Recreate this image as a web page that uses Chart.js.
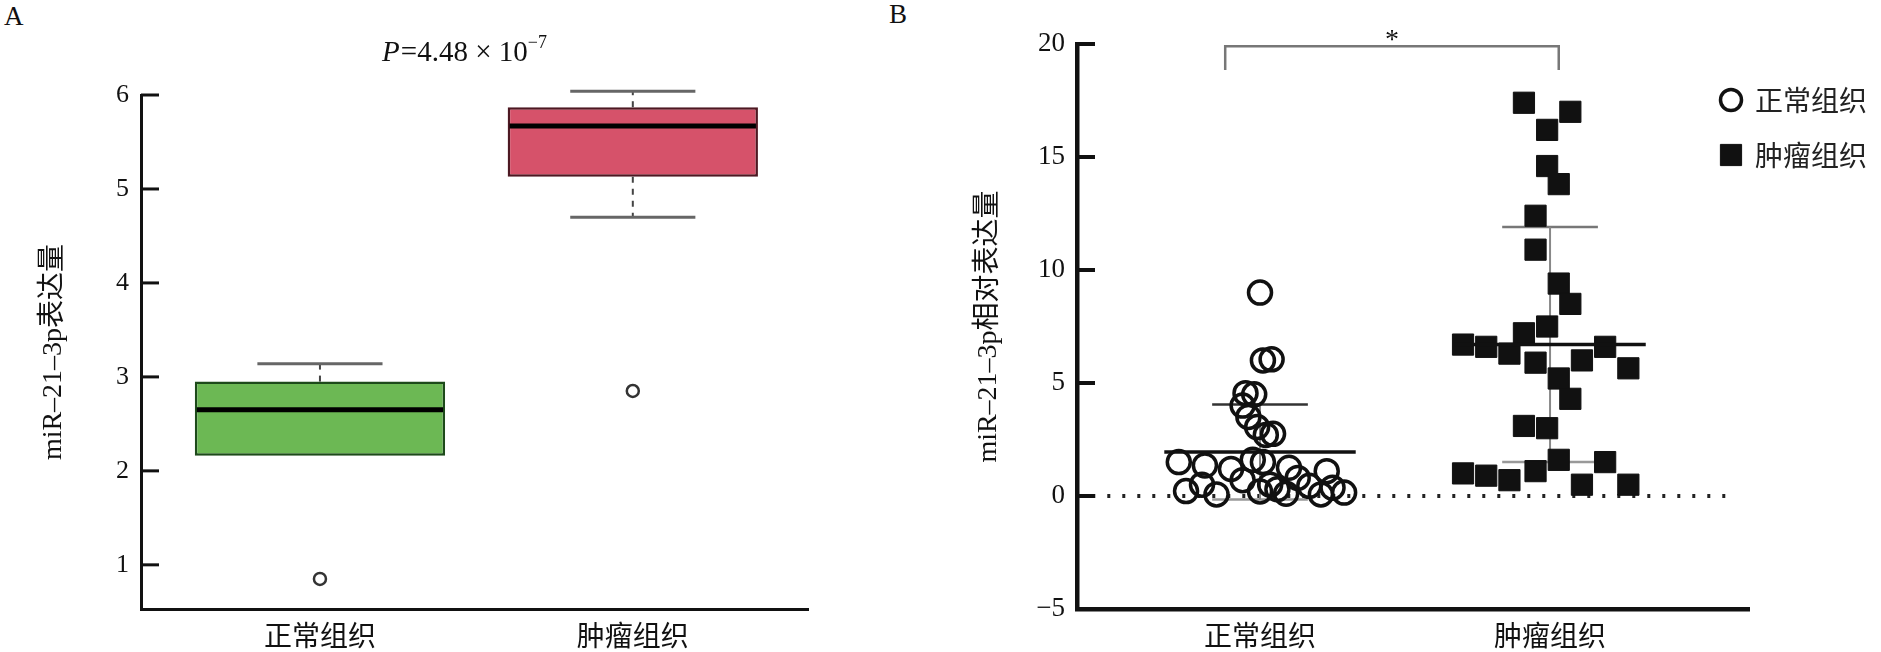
<!DOCTYPE html>
<html>
<head>
<meta charset="utf-8">
<script src="https://cdn.jsdelivr.net/npm/chart.js@4.4.1/dist/chart.umd.min.js"></script>
<style>
    html, body { margin: 0; padding: 0; background: #fff; }
    body { width: 1881px; height: 652px; position: relative; overflow: hidden; }
    .panel-tag { position: absolute; font: 27px 'Liberation Serif', serif; line-height: 1; color: #111; }
    #chart_a { position: absolute; left: 0; top: 0; }
    #chart_b { position: absolute; left: 880px; top: 0; }
</style>
</head>
<body>
<div class="panel-tag" style="left:4px;top:3px">A</div>
<div class="panel-tag" style="left:889px;top:1px">B</div>
<canvas id="chart_a" width="928" height="652"></canvas>
<canvas id="chart_b" width="1001" height="652"></canvas>
<script>
// ---------- data ----------
const groups = ['正常组织', '肿瘤组织'];

// Panel A: box plot summary per group
const boxLow = [2.16, 5.13];
const boxHigh = [2.95, 5.87];
const medians = [2.65, 5.67];
const whiskerLow = [2.16, 4.70];
const whiskerHigh = [3.14, 6.04];
const outliers = [0.85, 2.85];
const ticksA = [1, 2, 3, 4, 5, 6];
const titleA = ['P', '=4.48 × 10', '−7'];

// Panel B: individual samples (x = jittered group position)
const normalX = [1.0, 1.01, 1.04, 0.95, 0.98, 0.94, 0.96, 0.99, 1.02, 1.045,
    0.72, 0.745, 0.81, 0.80, 0.85, 0.90, 0.94, 1.01, 1.0, 1.035,
    1.06, 1.10, 1.13, 1.17, 1.21, 1.23, 1.25, 1.29, 0.975, 1.09];
const normalY = [9.0, 6.0, 6.05, 4.55, 4.5, 4.0, 3.5, 3.05, 2.7, 2.75,
    1.5, 0.22, 1.35, 0.5, 0.07, 1.2, 0.7, 1.5, 0.2, 0.5,
    0.3, 1.25, 0.8, 0.45, 0.07, 1.1, 0.37, 0.15, 1.6, 0.1];
const tumorX = [1.91, 2.07, 1.99, 1.99, 2.03, 1.95, 1.95, 2.03, 2.07, 1.99,
    1.91, 2.19, 1.95, 2.11, 2.27, 2.03, 2.07, 1.91, 1.99, 2.03,
    1.95, 2.19, 2.11, 2.27, 1.70, 1.78, 1.86, 1.70, 1.78, 1.86];
const tumorY = [17.4, 17.0, 16.2, 14.6, 13.8, 12.4, 10.9, 9.4, 8.5, 7.5,
    7.2, 6.6, 5.9, 6.0, 5.65, 5.2, 4.3, 3.1, 3.0, 1.6,
    1.1, 1.5, 0.5, 0.5, 6.7, 6.6, 6.3, 1.0, 0.9, 0.7];
const groupMean = [1.95, 6.7];
const groupSd = [2.1, 5.2];
const ticksB = [-5, 0, 5, 10, 15, 20];
const sigBracket = [18.85, 19.9];
const sigMark = '*';

// ---------- shared ----------
Chart.defaults.font.family = "'Liberation Serif', 'Noto Sans CJK SC', serif";
Chart.defaults.color = '#111';
const cjkFont = "'Noto Sans CJK SC', sans-serif";
const fixedTicks = list => scale => { scale.ticks = list.map(v => ({ value: v })); };

// short tick stubs drawn inside the plot, right of the y axis
const insideTicks = {
    id: 'insideTicks',
    afterDraw(chart, args, opts) {
        const { ctx, chartArea } = chart;
        const y = chart.scales.y;
        ctx.save();
        ctx.strokeStyle = '#111';
        ctx.lineWidth = opts.width;
        y.ticks.forEach(t => {
            const py = y.getPixelForValue(t.value);
            ctx.beginPath();
            ctx.moveTo(chartArea.left, py);
            ctx.lineTo(chartArea.left + opts.length, py);
            ctx.stroke();
        });
        ctx.restore();
    }
};

// ======================================================
// Panel A - box plot
const boxDetails = {
    id: 'boxDetails',
    afterDatasetsDraw(chart) {
        const { ctx, scales: { x, y } } = chart;
        const bars = chart.getDatasetMeta(1).data;
        const line = (x0, y0, x1, y1) => { ctx.beginPath(); ctx.moveTo(x0, y0); ctx.lineTo(x1, y1); ctx.stroke(); };
        ctx.save();
        groups.forEach((g, i) => {
            const cx = x.getPixelForValue(i + 1);
            const half = bars[i].width / 2;
            // whiskers
            ctx.strokeStyle = '#444';
            ctx.lineWidth = 2;
            ctx.setLineDash([6, 6]);
            line(cx, y.getPixelForValue(boxHigh[i]), cx, y.getPixelForValue(whiskerHigh[i]));
            if (whiskerLow[i] < boxLow[i]) {
                line(cx, y.getPixelForValue(boxLow[i]), cx, y.getPixelForValue(whiskerLow[i]));
            }
            ctx.setLineDash([]);
            // caps
            ctx.strokeStyle = '#666';
            ctx.lineWidth = 3;
            line(cx - half / 2, y.getPixelForValue(whiskerHigh[i]), cx + half / 2, y.getPixelForValue(whiskerHigh[i]));
            if (whiskerLow[i] < boxLow[i]) {
                line(cx - half / 2, y.getPixelForValue(whiskerLow[i]), cx + half / 2, y.getPixelForValue(whiskerLow[i]));
            }
            // median
            ctx.strokeStyle = '#000';
            ctx.lineWidth = 5;
            line(cx - half + 2, y.getPixelForValue(medians[i]), cx + half - 2, y.getPixelForValue(medians[i]));
        });
        ctx.restore();
    }
};

const pValueTitle = {
    id: 'pValueTitle',
    afterDraw(chart) {
        const { ctx, chartArea } = chart;
        const fonts = ["italic 29px 'Liberation Serif'", "29px 'Liberation Serif'", "18px 'Liberation Serif'"];
        const ty = chartArea.top - 42;
        ctx.save();
        ctx.fillStyle = '#111';
        ctx.textBaseline = 'middle';
        const widths = titleA.map((t, i) => { ctx.font = fonts[i]; return ctx.measureText(t).width; });
        let tx = chart.width / 2 - widths.reduce((a, b) => a + b, 0) / 2;
        titleA.forEach((t, i) => {
            ctx.font = fonts[i];
            ctx.fillText(t, tx, i === 2 ? ty - 10 : ty);
            tx += widths[i] + (i === 0 ? 1 : 0);
        });
        ctx.restore();
    }
};

new Chart(document.querySelector('#chart_a'), {
    type: 'bar',
    data: {
        datasets: [
            {
                type: 'scatter',
                label: 'outliers',
                data: outliers.map((v, i) => ({ x: i + 1, y: v })),
                pointStyle: 'circle',
                pointRadius: 6,
                borderWidth: 2.5,
                borderColor: '#333',
                backgroundColor: 'rgba(0,0,0,0)'
            },
            {
                type: 'bar',
                label: 'IQR',
                data: groups.map((g, i) => ({ x: i + 1, y: [boxLow[i], boxHigh[i]] })),
                backgroundColor: ['#6cb854', '#d6526a'],
                borderColor: ['#1d4a1a', '#4d1822'],
                borderWidth: 2.5,
                borderSkipped: false,
                barPercentage: 0.8,
                categoryPercentage: 1
            }
        ]
    },
    options: {
        responsive: false,
        animation: false,
        layout: { padding: { top: 95, right: 120, left: 0, bottom: 0 } },
        plugins: {
            legend: { display: false },
            tooltip: { enabled: false },
            insideTicks: { width: 3, length: 18 }
        },
        scales: {
            x: {
                type: 'linear',
                min: 0.428,
                max: 2.56,
                offset: false,
                afterBuildTicks: fixedTicks([1, 2]),
                afterFit: s => { s.height = 43; },
                ticks: { padding: 10, font: { size: 28, family: cjkFont }, callback: v => groups[v - 1] },
                grid: { display: false, drawTicks: false },
                border: { color: '#111', width: 3 }
            },
            y: {
                min: 0.53,
                max: 6,
                afterBuildTicks: fixedTicks(ticksA),
                afterFit: s => { s.width = 141; },
                ticks: { padding: 12, font: { size: 26 } },
                grid: { display: false, drawTicks: false },
                border: { color: '#111', width: 3 },
                title: { display: true, text: 'miR–21–3p表达量', font: { size: 28 }, padding: { top: 37, bottom: 0 } }
            }
        }
    },
    plugins: [boxDetails, insideTicks, pValueTitle]
});

// ======================================================
// Panel B - scatter with mean ± SD
const seg = (x0, x1, y0, y1) => [{ x: x0, y: y0 }, { x: x1, y: y1 }];
const lineSet = (data, color, width, extra) => Object.assign({
    type: 'line', data, borderColor: color, borderWidth: width,
    pointRadius: 0, fill: false, tension: 0, clip: false, order: 2
}, extra || {});

const statLines = [];
groups.forEach((g, i) => {
    const c = i + 1, m = groupMean[i], s = groupSd[i];
    statLines.push(lineSet(seg(c, c, m - s, m + s), '#888', 2));
    statLines.push(lineSet(seg(c - 0.165, c + 0.165, m + s, m + s), i === 0 ? '#333' : '#777', 2.5));
    statLines.push(lineSet(seg(c - 0.165, c + 0.165, m - s, m - s), '#999', 2.5));
    statLines.push(lineSet(seg(c - 0.33, c + 0.33, m, m), '#111', 3.5, { order: 0 }));
});

const sideLegend = {
    id: 'sideLegend',
    afterDraw(chart, args, opts) {
        const { ctx, chartArea } = chart;
        const items = chart.data.datasets.filter(d => groups.includes(d.label));
        ctx.save();
        items.forEach((d, i) => {
            const cx = chartArea.right + opts.x;
            const cy = chartArea.top + opts.y + i * opts.gap;
            ctx.fillStyle = d.backgroundColor;
            ctx.strokeStyle = d.borderColor;
            ctx.lineWidth = d.borderWidth;
            Chart.helpers.drawPoint(ctx, { pointStyle: d.pointStyle, radius: opts.radius[i], borderWidth: d.borderWidth, rotation: 0 }, cx, cy);
            ctx.fillStyle = '#222';
            ctx.font = "28px 'Noto Sans CJK SC'";
            ctx.textBaseline = 'middle';
            ctx.fillText(d.label, cx + 24, cy);
        });
        ctx.restore();
    }
};

const sigLabel = {
    id: 'sigLabel',
    afterDraw(chart) {
        const { ctx, scales: { x, y } } = chart;
        const mx = (x.getPixelForValue(1 - 0.12) + x.getPixelForValue(2 + 0.03)) / 2;
        ctx.save();
        ctx.fillStyle = '#111';
        ctx.font = "28px 'Liberation Serif'";
        ctx.textAlign = 'center';
        ctx.textBaseline = 'middle';
        ctx.fillText(sigMark, mx, y.getPixelForValue(sigBracket[1]) - 6);
        ctx.restore();
    }
};

new Chart(document.querySelector('#chart_b'), {
    type: 'scatter',
    data: {
        datasets: [
            {
                label: groups[0],
                data: normalX.map((v, i) => ({ x: v, y: normalY[i] })),
                pointStyle: 'circle',
                pointRadius: 11.5,
                borderWidth: 3.5,
                borderColor: '#111',
                backgroundColor: 'rgba(0,0,0,0)',
                order: 1
            },
            {
                label: groups[1],
                data: tumorX.map((v, i) => ({ x: v, y: tumorY[i] })),
                pointStyle: 'rect',
                pointRadius: 15,
                borderWidth: 1,
                borderColor: '#111',
                backgroundColor: '#111',
                order: 1
            },
            ...statLines,
            lineSet(seg(0.37, 2.64, 0, 0), '#222', 4, { borderDash: [3, 12], order: 3 }),
            lineSet([
                { x: 1 - 0.12, y: sigBracket[0] }, { x: 1 - 0.12, y: sigBracket[1] },
                { x: 2 + 0.03, y: sigBracket[1] }, { x: 2 + 0.03, y: sigBracket[0] }
            ], '#777', 2.5)
        ]
    },
    options: {
        responsive: false,
        animation: false,
        layout: { padding: { top: 44, right: 132, left: 0, bottom: 0 } },
        plugins: {
            legend: { display: false },
            tooltip: { enabled: false },
            insideTicks: { width: 4, length: 18 },
            sideLegend: { x: -18, y: 56, gap: 55, radius: [10.5, 15] }
        },
        scales: {
            x: {
                type: 'linear',
                min: 0.369,
                max: 2.686,
                offset: false,
                afterBuildTicks: fixedTicks([1, 2]),
                afterFit: s => { s.height = 43; },
                ticks: { padding: 10, font: { size: 28, family: cjkFont }, callback: v => groups[v - 1] },
                grid: { display: false, drawTicks: false },
                border: { color: '#111', width: 4.5 }
            },
            y: {
                min: -5,
                max: 20,
                afterBuildTicks: fixedTicks(ticksB),
                afterFit: s => { s.width = 197; },
                ticks: { padding: 12, font: { size: 27 }, callback: v => v < 0 ? '−' + Math.abs(v) : v },
                grid: { display: false, drawTicks: false },
                border: { color: '#111', width: 4.5 },
                title: { display: true, text: 'miR–21–3p相对表达量', font: { size: 28 }, padding: { top: 92, bottom: 0 } }
            }
        }
    },
    plugins: [insideTicks, sideLegend, sigLabel]
});
</script>
</body>
</html>
